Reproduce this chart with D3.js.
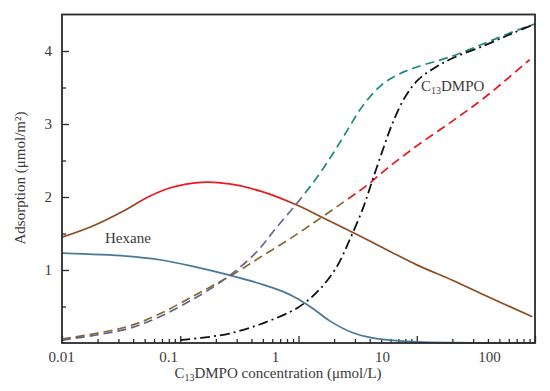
<!DOCTYPE html>
<html><head><meta charset="utf-8">
<script src="https://cdn.jsdelivr.net/npm/d3@7"></script>
<style>
body{margin:0;background:#fff}
svg{display:block}
</style>
</head><body>
<svg id="chart" width="550" height="391"></svg>
<script>
// ---------- data ----------
const xTickValues = [0.01, 0.1, 1, 10, 100];
const xTickLabels = ["0.01", "0.1", "1", "10", "100"];
const yTickValues = [1, 2, 3, 4];
const yTickLabels = ["1", "2", "3", "4"];

// solid red/brown curve (Hexane, upper)
const solidRedX = [0.01, 0.018, 0.035, 0.052, 0.08, 0.15, 0.26, 0.5, 1.0, 1.5, 3, 6, 10, 20, 38, 95];
const solidRedY = [1.45, 1.60, 1.83, 1.99, 2.12, 2.20, 2.18, 2.07, 1.88, 1.74, 1.50, 1.25, 1.07, 0.86, 0.65, 0.36];

// solid blue curve (Hexane, lower)
const solidBlueX = [0.01, 0.035, 0.067, 0.128, 0.26, 0.5, 0.75, 1.0, 1.33, 1.85, 2.88, 4.2, 5.9, 10, 20, 50, 100];
const solidBlueY = [1.23, 1.19, 1.14, 1.05, 0.93, 0.80, 0.70, 0.60, 0.47, 0.30, 0.14, 0.07, 0.04, 0.015, 0.005, 0.002, 0.002];

// dashed red/olive curve
const dashRedX = [0.01, 0.035, 0.067, 0.128, 0.2, 0.3, 0.47, 0.85, 1.5, 2.5, 3.8, 5.7, 10, 20, 38, 90];
const dashRedY = [0.055, 0.22, 0.40, 0.64, 0.81, 0.97, 1.17, 1.43, 1.70, 1.95, 2.16, 2.40, 2.70, 3.04, 3.37, 3.88];

// dashed teal/purple curve
const dashTealX = [0.01, 0.035, 0.067, 0.128, 0.2, 0.3, 0.45, 0.65, 1.0, 1.45, 2.0, 2.6, 3.5, 5.0, 7, 10, 20, 38, 72, 100];
const dashTealY = [0.04, 0.19, 0.36, 0.60, 0.79, 1.00, 1.26, 1.58, 1.94, 2.28, 2.62, 2.92, 3.25, 3.53, 3.68, 3.78, 3.93, 4.11, 4.29, 4.37];

// dash-dot black curve (C13DMPO)
const dashDotX = [0.1, 0.15, 0.26, 0.5, 1.0, 1.5, 2.1, 2.7, 3.5, 4.2, 5.2, 6.2, 7.9, 10.2, 14.2, 20, 38, 64, 100];
const dashDotY = [0.04, 0.07, 0.13, 0.27, 0.49, 0.73, 1.04, 1.41, 1.84, 2.22, 2.66, 3.00, 3.36, 3.60, 3.77, 3.90, 4.08, 4.24, 4.37];

// ---------- chart ----------
const FONT = '"Liberation Serif", "Times New Roman", serif';
const TXT = "#3a3a3a";
const svg = d3.select("#chart");
const x = d3.scaleLog().domain([0.01, 100]).range([62, 535]);
const xLabel = d3.scaleLog().domain([0.01, 100]).range([61, 489]);
const y = d3.scaleLinear().domain([0, 4.5]).range([343, 14.5]);

const defs = svg.append("defs");
function vGrad(id, stops) {
  const g = defs.append("linearGradient").attr("id", id)
    .attr("gradientUnits", "userSpaceOnUse")
    .attr("x1", 0).attr("x2", 0).attr("y1", y(0)).attr("y2", y(4.5));
  stops.forEach(s => g.append("stop").attr("offset", s[0] / 4.5).attr("stop-color", s[1]));
}
vGrad("gSolidRed", [[0, "#8e4c1e"], [1.88, "#8e4c1e"], [1.98, "#ee1a22"], [4.5, "#ee1a22"]]);
vGrad("gDashRed", [[0, "#85692c"], [1.93, "#85692c"], [2.03, "#e8141e"], [4.5, "#e8141e"]]);
vGrad("gDashTeal", [[0, "#5e5e86"], [2.0, "#6a6a9a"], [2.12, "#1b8a7d"], [4.5, "#1b8a7d"]]);

// minor ticks
const minorX = [];
[0.01, 0.1, 1, 10].forEach(d => { for (let k = 2; k <= 9; k++) minorX.push(d * k); });
const minorY = [0.5, 1.5, 2.5, 3.5];

const axes = svg.append("g");
axes.append("g").attr("transform", "translate(0,343)")
  .call(d3.axisBottom(x).tickValues(minorX).tickSize(-4).tickFormat(""))
  .call(g => g.select(".domain").remove());
axes.append("g").attr("transform", "translate(0,343)")
  .call(d3.axisBottom(x).tickValues(xTickValues).tickSize(-7).tickFormat(""))
  .call(g => g.select(".domain").remove());
axes.append("g").attr("transform", "translate(0,343)")
  .call(d3.axisBottom(xLabel).tickValues(xTickValues).tickSize(0).tickFormat((d, i) => xTickLabels[i]))
  .call(g => g.select(".domain").remove())
  .call(g => g.selectAll("line").remove())
  .call(g => g.selectAll("text").attr("y", 19).attr("dy", null));

axes.append("g").attr("transform", "translate(62,0)")
  .call(d3.axisLeft(y).tickValues(minorY).tickSize(-4).tickFormat(""))
  .call(g => g.select(".domain").remove());
axes.append("g").attr("transform", "translate(62,0)")
  .call(d3.axisLeft(y).tickValues(yTickValues).tickSize(-7).tickPadding(10).tickFormat((d, i) => yTickLabels[i]))
  .call(g => g.select(".domain").remove());
axes.selectAll("g").attr("font-family", FONT).attr("font-size", 15);
axes.selectAll("text").attr("fill", TXT).attr("font-family", FONT).attr("font-size", 15);
axes.selectAll(".tick line").attr("stroke", "#2a2a2a").attr("stroke-width", 1.3);

// curves
const line = d3.line().x(d => x(d[0])).y(d => y(d[1])).curve(d3.curveCatmullRom.alpha(0.5));
const zip = (a, b) => a.map((v, i) => [v, b[i]]);
const curves = svg.append("g").attr("fill", "none");
curves.append("path").attr("d", line(zip(solidBlueX, solidBlueY)))
  .attr("stroke", "#46789a").attr("stroke-width", 1.7);
curves.append("path").attr("d", line(zip(solidRedX, solidRedY)))
  .attr("stroke", "url(#gSolidRed)").attr("stroke-width", 1.7);
curves.append("path").attr("d", line(zip(dashRedX, dashRedY)))
  .attr("stroke", "url(#gDashRed)").attr("stroke-width", 1.7).attr("stroke-dasharray", "9,5");
curves.append("path").attr("d", line(zip(dashTealX, dashTealY)))
  .attr("stroke", "url(#gDashTeal)").attr("stroke-width", 1.7).attr("stroke-dasharray", "9,5");
curves.append("path").attr("d", line(zip(dashDotX, dashDotY)))
  .attr("stroke", "#111").attr("stroke-width", 1.8).attr("stroke-dasharray", "10,4,2,4");

// frame
svg.append("rect").attr("x", x(0.01)).attr("y", y(4.5))
  .attr("width", x(100) - x(0.01)).attr("height", y(0) - y(4.5))
  .attr("fill", "none").attr("stroke", "#2a2a2a").attr("stroke-width", 1.8);

// text helper
function addText(parent) {
  return parent.append("text").attr("font-family", FONT).attr("font-size", 15).attr("fill", TXT);
}
// in-plot labels
addText(svg).attr("x", 105).attr("y", 243).text("Hexane");
const lab = addText(svg).attr("x", 421).attr("y", 91);
lab.append("tspan").text("C");
lab.append("tspan").attr("dy", 3).attr("font-size", 10).text("13");
lab.append("tspan").attr("dy", -3).text("DMPO");

// axis titles
const xt = addText(svg).attr("x", 278).attr("y", 378).attr("text-anchor", "middle");
xt.append("tspan").text("C");
xt.append("tspan").attr("dy", 3).attr("font-size", 10).text("13");
xt.append("tspan").attr("dy", -3).text("DMPO concentration (μmol/L)");

addText(svg).attr("transform", "translate(25,178) rotate(-90)")
  .attr("text-anchor", "middle").text("Adsorption (μmol/m²)");
</script>
</body></html>
